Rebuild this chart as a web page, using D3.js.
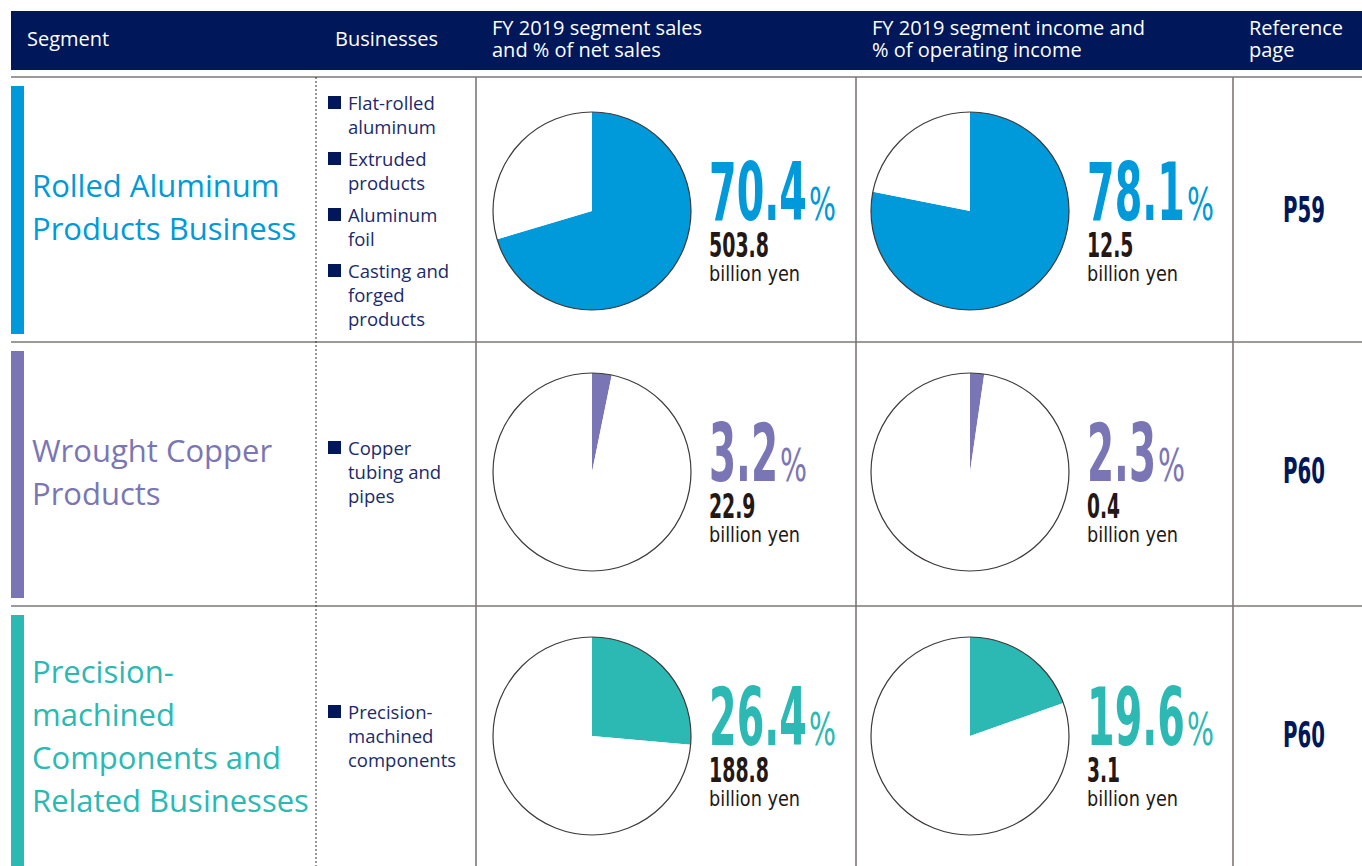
<!DOCTYPE html>
<html>
<head>
<meta charset="utf-8">
<script src="https://cdn.jsdelivr.net/npm/d3@7"></script>
<style>
  body { margin: 0; background: #fff; }
  svg { display: block; }
</style>
</head>
<body>
<div id="chart"></div>
<script>
// ---- data ----
var headers = [
  ["Segment"],
  ["Businesses"],
  ["FY 2019 segment sales", "and % of net sales"],
  ["FY 2019 segment income and", "% of operating income"],
  ["Reference", "page"]
];
var segments = [
  ["Rolled Aluminum", "Products Business"],
  ["Wrought Copper", "Products"],
  ["Precision-", "machined", "Components and", "Related Businesses"]
];
var segmentColors = ["#0099d9", "#7a76b6", "#2cb8b3"];
var businesses = [
  [["Flat-rolled", "aluminum"], ["Extruded", "products"], ["Aluminum", "foil"], ["Casting and", "forged", "products"]],
  [["Copper", "tubing and", "pipes"]],
  [["Precision-", "machined", "components"]]
];
var salesPct = [70.4, 3.2, 26.4];
var salesValue = ["503.8", "22.9", "188.8"];
var incomePct = [78.1, 2.3, 19.6];
var incomeValue = ["12.5", "0.4", "3.1"];
var refPages = ["P59", "P60", "P60"];

// ---- layout ----
var W = 1362, H = 866;
var navy = "#00175a", ink = "#231815", lineCol = "#7d7775", bizCol = "#1b2a6b";
var left = 11;
var rowTop = [77, 342, 606, H];
var pieCy = [211, 472, 736];
var colX = [316, 476, 856, 1233];   // column separators
var pieCx = [592, 970];
var r = 99;
var humanist = "'Open Sans', 'Noto Sans', sans-serif";
var narrow = "'Liberation Sans Narrow', 'DejaVu Sans Condensed', sans-serif";

var svg = d3.select("#chart").append("svg")
  .attr("width", W).attr("height", H);

// squeeze a text horizontally so it is exactly w px wide, anchored at (x, y)
function squeeze(sel, x, y, w, anchor) {
  var len = sel.node().getComputedTextLength();
  var s = w / len;
  var dx = anchor == "middle" ? -w / 2 : 0;
  sel.attr("transform", "translate(" + (x + dx) + "," + y + ") scale(" + s + ",1)");
  return w;
}
// condensed digit widths seen in the picture
function numWidth(str, digit, dot) {
  var w = 0;
  for (var c of str) w += (c == "." ? dot : digit);
  return w;
}

// header bar
svg.append("rect")
  .attr("x", left).attr("y", 11)
  .attr("width", W - left).attr("height", 59)
  .attr("fill", navy);

var headX = [27, 335, 492, 872, 1249];
headers.forEach(function(h, i) {
  var t = svg.append("text")
    .attr("x", headX[i])
    .attr("y", h.length == 1 ? 46 : 35)
    .attr("fill", "#fff")
    .attr("font-family", humanist)
    .attr("font-size", 20);
  h.forEach(function(line, j) {
    t.append("tspan").attr("x", headX[i]).attr("dy", j == 0 ? 0 : 22).text(line);
  });
});

// grid lines
var grid = svg.append("g").attr("stroke", lineCol).attr("stroke-width", 1.6);
rowTop.slice(0, 3).forEach(function(y) {
  grid.append("line").attr("x1", left).attr("x2", W).attr("y1", y).attr("y2", y);
});
colX.slice(1).forEach(function(x) {
  grid.append("line").attr("x1", x).attr("x2", x).attr("y1", rowTop[0]).attr("y2", H);
});
svg.append("line")
  .attr("x1", colX[0]).attr("x2", colX[0]).attr("y1", rowTop[0]).attr("y2", H)
  .attr("stroke", "#333").attr("stroke-width", 1).attr("stroke-dasharray", "2,2");

var pie = d3.pie().sort(null).value(function(d) { return d; });
var arc = d3.arc().innerRadius(0).outerRadius(r);
var fmt = d3.format(".1f");

segments.forEach(function(seg, i) {
  var color = segmentColors[i];
  var top = rowTop[i], bottom = rowTop[i + 1];

  // colour bar
  svg.append("rect")
    .attr("x", left).attr("y", top + 9)
    .attr("width", 13).attr("height", Math.min(bottom, H) - top - (i == 2 ? 9 : 17))
    .attr("fill", color);

  // segment name
  var mid = top + 141;
  var first = mid - (seg.length - 1) * 43 / 2;
  var t = svg.append("text")
    .attr("fill", color)
    .attr("font-family", humanist)
    .attr("font-size", 31);
  seg.forEach(function(line, j) {
    t.append("tspan").attr("x", 32).attr("y", first + j * 43).text(line);
  });

  // businesses list
  var groups = businesses[i];
  var nLines = d3.sum(groups, function(g) { return g.length; });
  var span = (nLines - 1) * 24 + (groups.length - 1) * 8;
  var y = pieCy[i] + 7 - span / 2;
  groups.forEach(function(g) {
    svg.append("rect")
      .attr("x", 328).attr("y", y - 14)
      .attr("width", 13).attr("height", 13)
      .attr("fill", navy);
    g.forEach(function(line) {
      svg.append("text")
        .attr("x", 348).attr("y", y)
        .attr("fill", bizCol)
        .attr("font-family", humanist)
        .attr("font-size", 18.5)
        .text(line);
      y += 24;
    });
    y += 8;
  });

  // two pies
  [[salesPct[i], salesValue[i]], [incomePct[i], incomeValue[i]]].forEach(function(d, k) {
    var cx = pieCx[k], cy = pieCy[i];
    var g = svg.append("g").attr("transform", "translate(" + cx + "," + cy + ")");
    g.selectAll("path")
      .data(pie([d[0], 100 - d[0]]))
      .enter().append("path")
      .attr("d", arc)
      .attr("fill", function(s, n) { return n == 0 ? color : "#fff"; });
    g.append("circle").attr("r", r)
      .attr("fill", "none").attr("stroke", "#3e3a39").attr("stroke-width", 1.2);

    var tx = cx + 117;
    var label = fmt(d[0]);
    var num = svg.append("text")
      .attr("fill", color)
      .attr("font-family", narrow)
      .attr("font-weight", "bold")
      .attr("font-size", 81)
      .text(label);
    var nw = squeeze(num, tx, cy + 9, numWidth(label, 29, 11));
    var pc = svg.append("text")
      .attr("fill", color)
      .attr("font-family", narrow)
      .attr("font-size", 45)
      .text("%");
    squeeze(pc, tx + nw + 2, cy + 9, 27);

    var val = svg.append("text")
      .attr("fill", ink)
      .attr("font-family", narrow)
      .attr("font-weight", "bold")
      .attr("font-size", 33)
      .text(d[1]);
    squeeze(val, tx, cy + 46, numWidth(d[1], 13.5, 6));

    var by = svg.append("text")
      .attr("fill", ink)
      .attr("font-family", narrow)
      .attr("font-size", 21)
      .text("billion yen");
    squeeze(by, tx, cy + 70, 91);
  });

  // reference page
  var ref = svg.append("text")
    .attr("fill", navy)
    .attr("font-family", narrow)
    .attr("font-weight", "bold")
    .attr("font-size", 36)
    .text(refPages[i]);
  squeeze(ref, 1304, pieCy[i] + 11, 42, "middle");
});
</script>
</body>
</html>
